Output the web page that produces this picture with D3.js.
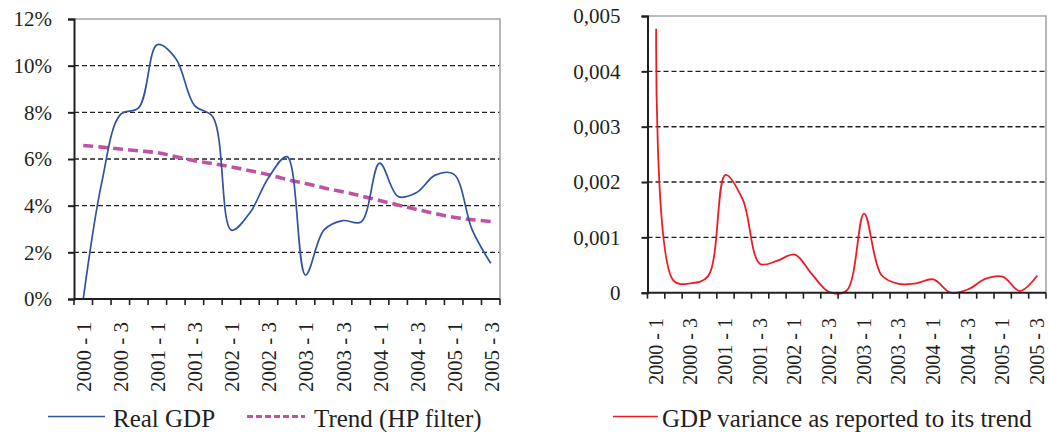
<!DOCTYPE html>
<html>
<head>
<meta charset="utf-8">
<script src="https://cdn.jsdelivr.net/npm/d3@7"></script>
<style>
  body { margin: 0; background: #fff; }
  svg { display: block; }
  text { font-family: "Liberation Serif", "Times New Roman", serif; fill: #231f20; }
</style>
</head>
<body>
<div id="chart"></div>
<script>
// quarters 2000-1 .. 2005-3
const quarters = ["2000 - 1","2000 - 2","2000 - 3","2000 - 4","2001 - 1","2001 - 2","2001 - 3","2001 - 4",
  "2002 - 1","2002 - 2","2002 - 3","2002 - 4","2003 - 1","2003 - 2","2003 - 3","2003 - 4",
  "2004 - 1","2004 - 2","2004 - 3","2004 - 4","2005 - 1","2005 - 2","2005 - 3"];

// left chart series (percent)
const realGdp = [0.0, 5.0, 7.9, 8.2, 10.9, 10.3, 8.3, 7.8, 2.95, 3.7, 5.2, 6.1,
  1.03, 2.96, 3.36, 3.3, 5.82, 4.39, 4.56, 5.31, 5.35, 2.96, 1.53];
const trend = [6.58, 6.51, 6.43, 6.35, 6.27, 6.1, 5.93, 5.8, 5.66, 5.5, 5.33, 5.12,
  4.95, 4.76, 4.6, 4.42, 4.22, 4.03, 3.84, 3.66, 3.5, 3.4, 3.32];

// right chart series
const variance = [0.00477, 0.00022, 0.00017, 0.0003, 0.00213, 0.00168, 0.00052, 0.00058,
  0.00069, 0.00033, 0.00001, 0.00004, 0.00143, 0.00032, 0.00016, 0.00017, 0.00024,
  0.0, 0.00006, 0.00025, 0.00029, 0.00003, 0.00031];

const leftTicks = [0, 2, 4, 6, 8, 10, 12];
const leftTickLabels = ["0%", "2%", "4%", "6%", "8%", "10%", "12%"];
const rightTicks = [0, 0.001, 0.002, 0.003, 0.004, 0.005];
const rightTickLabels = ["0", "0,001", "0,002", "0,003", "0,004", "0,005"];

const serif = '"Liberation Serif", "Times New Roman", serif';

const svg = d3.select("#chart").append("svg")
  .attr("width", 1049)
  .attr("height", 432);

function drawPanel(opt) {
  const g = svg.append("g");

  const x = d3.scaleBand()
    .domain(quarters)
    .range([opt.x0, opt.x1]);

  const y = d3.scaleLinear()
    .domain([0, opt.max])
    .range([opt.y1, opt.y0]);

  // dashed gridlines
  g.selectAll("line.grid")
    .data(opt.ticks.filter(d => d > 0 && d < opt.max))
    .enter().append("line")
    .attr("class", "grid")
    .attr("x1", opt.x0).attr("x2", opt.x1)
    .attr("y1", d => y(d)).attr("y2", d => y(d))
    .style("stroke", "#231f20")
    .style("stroke-width", 1.4)
    .style("stroke-dasharray", "5 3");

  // gray frame on top and right
  g.append("path")
    .attr("d", `M${opt.x0},${y(opt.max)}H${opt.x1}V${opt.y1}`)
    .style("fill", "none")
    .style("stroke", "#a6a6a6")
    .style("stroke-width", 1.6);

  // series
  opt.series.forEach(s => {
    const line = d3.line()
      .x((d, i) => x(quarters[i]) + x.bandwidth() / 2)
      .y(d => y(d))
      .curve(d3.curveCatmullRom.alpha(0.5));
    g.append("path")
      .datum(s.values)
      .attr("d", line)
      .style("fill", "none")
      .style("stroke", s.color)
      .style("stroke-width", s.width)
      .style("stroke-dasharray", s.dash || null);
  });

  // y axis
  const yAxis = d3.axisLeft(y)
    .tickValues(opt.ticks)
    .tickSize(6)
    .tickPadding(opt.pad)
    .tickFormat((d, i) => opt.tickLabels[i]);

  g.append("g")
    .attr("transform", `translate(${opt.x0},0)`)
    .call(yAxis)
    .attr("font-family", serif)
    .call(a => a.selectAll("path, line").style("stroke", "#231f20").style("stroke-width", 2))
    .call(a => a.selectAll("text")
      .style("font-family", serif)
      .style("font-size", "21px")
      .style("fill", "#231f20"));

  // x axis: ticks at category boundaries
  g.append("line")
    .attr("x1", opt.x0).attr("x2", opt.x1)
    .attr("y1", opt.y1).attr("y2", opt.y1)
    .style("stroke", "#231f20").style("stroke-width", 2);

  const bounds = quarters.map(q => x(q)).concat([opt.x1]);
  g.selectAll("line.xtick")
    .data(bounds)
    .enter().append("line")
    .attr("class", "xtick")
    .attr("x1", d => d).attr("x2", d => d)
    .attr("y1", opt.y1).attr("y2", opt.y1 + 6)
    .style("stroke", "#231f20").style("stroke-width", 1.6);

  g.selectAll("text.xlab")
    .data(quarters.filter((q, i) => i % 2 === 0))
    .enter().append("text")
    .attr("class", "xlab")
    .attr("transform", d => `translate(${x(d) + x.bandwidth() / 2 + opt.labelShift},${opt.labelTop}) rotate(-90)`)
    .attr("dy", "0.33em")
    .attr("text-anchor", "end")
    .style("font-family", serif)
    .style("font-size", opt.labelSize)
    .text(d => d);

  // legend
  opt.legend.forEach(l => {
    g.append("line")
      .attr("x1", l.x1).attr("x2", l.x2)
      .attr("y1", 416.5).attr("y2", 416.5)
      .style("stroke", l.color)
      .style("stroke-width", l.width)
      .style("stroke-dasharray", l.dash || null);
    g.append("text")
      .attr("x", l.tx).attr("y", 426.5)
      .style("font-family", serif)
      .style("font-size", "25px")
      .text(l.label);
  });
}

drawPanel({
  x0: 74, x1: 500, y0: 19, y1: 299, max: 12, pad: 16,
  ticks: leftTicks, tickLabels: leftTickLabels,
  labelTop: 322, labelShift: 1, labelSize: "21px",
  series: [
    { values: trend, color: "#c052a6", width: 3.6, dash: "10 5" },
    { values: realGdp, color: "#2f52a3", width: 1.7 }
  ],
  legend: [
    { x1: 48, x2: 105, tx: 113, color: "#2f52a3", width: 1.6, label: "Real GDP" },
    { x1: 247, x2: 305, tx: 314, color: "#c052a6", width: 3, dash: "6 3", label: "Trend (HP filter)" }
  ]
});

drawPanel({
  x0: 647.5, x1: 1046, y0: 16, y1: 292.7, max: 0.005, pad: 21,
  ticks: rightTicks, tickLabels: rightTickLabels,
  labelTop: 318, labelShift: 0, labelSize: "20px",
  series: [
    { values: variance, color: "#ed1c24", width: 1.8 }
  ],
  legend: [
    { x1: 613, x2: 658, tx: 662, color: "#ed1c24", width: 1.6, label: "GDP variance as reported to its trend" }
  ]
});
</script>
</body>
</html>
